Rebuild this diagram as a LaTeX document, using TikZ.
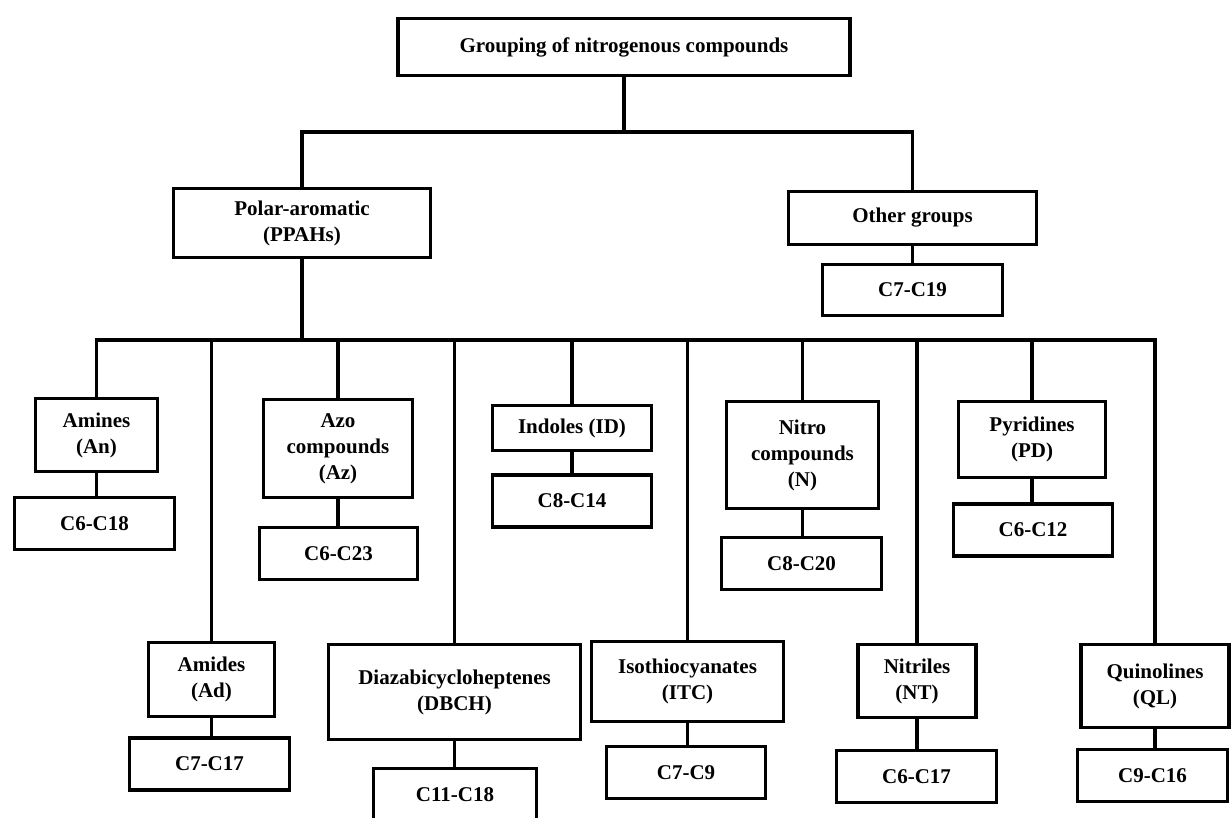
\documentclass[tikz,border=0pt]{standalone}
\usepackage{fontspec}
\setmainfont{Liberation Serif}
\tikzset{every node/.style={font=\bfseries\fontsize{21}{26}\selectfont},
  grp/.style={draw, line width=3.2pt, align=center, inner sep=2pt},
  tie/.style={line width=3.2pt}}

\begin{document}
\begin{tikzpicture}[x=1pt,y=-1pt]
  \useasboundingbox (0,0) rectangle (1231,818);
  % upper levels
  \node[grp,minimum width=452pt,minimum height=57pt] (top) at (624,47) {Grouping of nitrogenous compounds};
  \node[grp,minimum width=257pt,minimum height=69pt] (polar) at (302,223) {Polar-aromatic\\(PPAHs)};
  \node[grp,minimum width=248pt,minimum height=53pt] (other) at (912.5,218) {Other groups};
  \node[grp,minimum width=180pt,minimum height=51pt] (otherr) at (912.5,290) {C7-C19};
  \coordinate (bar1) at (624,132);
  \coordinate (bar2) at (302,340);
  \draw[tie] (top.south) -- (bar1);
  \draw[tie] (polar.north) |- (bar1);
  \draw[tie] (other.north) |- (bar1);
  \draw[tie] (other.south) -- (otherr.north);
  \draw[tie] (polar.south) -- (bar2);
  % classes of PPAHs
  \foreach \n/\x/\y/\w/\h/\t in {
    amines/96.5/435/122/73/{Amines\\(An)},
    amides/211.5/679.5/126/74/{Amides\\(Ad)},
    azo/338/448.5/149/98/{Azo\\compounds\\(Az)},
    diaza/454.5/692/252/95/{Diazabicycloheptenes\\(DBCH)},
    indoles/572/428/159/45/{Indoles (ID)},
    itc/687.5/681.5/192/80/{Isothiocyanates\\(ITC)},
    nitro/802.5/455/152/107/{Nitro\\compounds\\(N)},
    nitriles/917/681/118/73/{Nitriles\\(NT)},
    pyridines/1032/439.5/147/76/{Pyridines\\(PD)},
    quinolines/1155/686/148/83/{Quinolines\\(QL)}}
    \node[grp,minimum width=\w pt,minimum height=\h pt] (\n) at (\x,\y) {\t};
  % carbon ranges
  \foreach \n/\x/\y/\w/\t in {
    anr/94.5/523.5/160/C6-C18,
    adr/209.5/764/160/C7-C17,
    azr/338.5/553.5/158/C6-C23,
    dbchr/455/794.5/163/C11-C18,
    idr/572/501/159/C8-C14,
    itcr/686/772.5/159/C7-C9,
    nr/801.5/563.5/160/C8-C20,
    ntr/916.5/776.5/160/C6-C17,
    pdr/1033/530/159/C6-C12,
    qlr/1152.5/775.5/150/C9-C16}
    \node[grp,minimum width=\w pt,minimum height=52pt] (\n) at (\x,\y) {\t};
  \foreach \a/\b in {amines/anr,amides/adr,azo/azr,diaza/dbchr,indoles/idr,
    itc/itcr,nitro/nr,nitriles/ntr,pyridines/pdr,quinolines/qlr}
    \draw[tie] (\a.south) -- (\a.south |- \b.north);
  \foreach \n in {amines,amides,azo,diaza,indoles,itc,nitro,nitriles,pyridines,quinolines}
    \draw[tie] (\n.north) |- (bar2);
\end{tikzpicture}
\end{document}
